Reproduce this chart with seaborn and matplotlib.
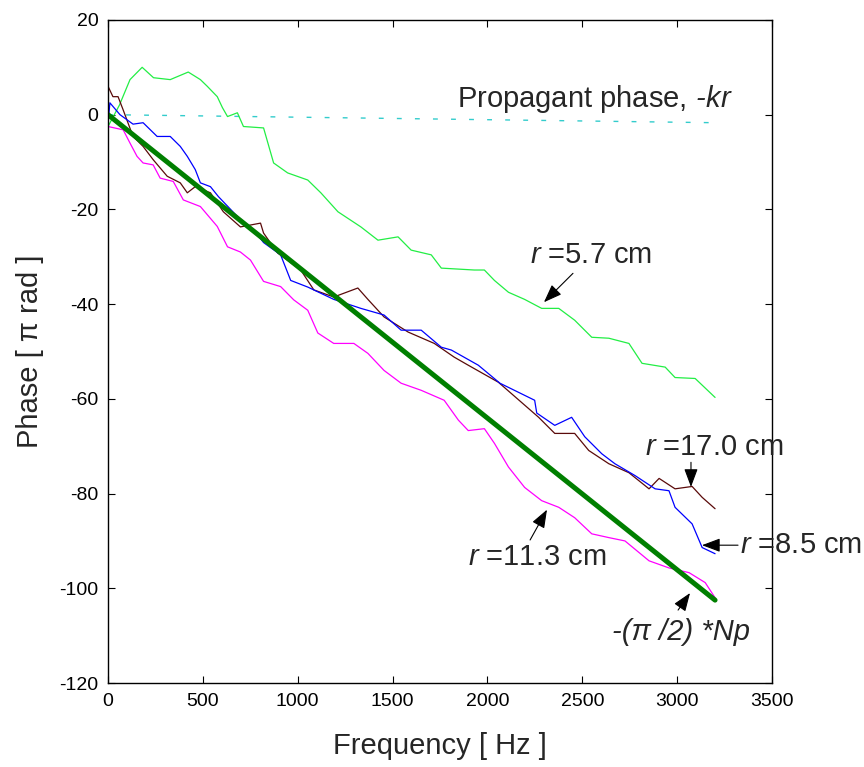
import matplotlib
matplotlib.use("Agg")
import matplotlib.pyplot as plt
import seaborn as sns
import pandas as pd

# ---- data ----
f_r57 = [0, 20, 60, 116, 180, 240, 328, 423, 487, 523, 576, 603, 630, 682, 714, 820, 873, 947,
         1053, 1122, 1212, 1333, 1423, 1529, 1598, 1704, 1757, 1931, 1984, 2037, 2111, 2196,
         2286, 2376, 2460, 2550, 2640, 2746, 2815, 2937, 2989, 3095, 3200]
p_r57 = [-2.5, -1, 2, 7.4, 10, 7.8, 7.4, 9, 7.4, 6, 3.8, 1.5, -0.4, 0.4, -2.5, -2.8, -10.2, -12.3,
         -13.8, -16.5, -20.5, -23.7, -26.5, -25.8, -28.6, -29.6, -32.4, -32.8, -32.8, -35, -37.5, -39,
         -40.9, -40.9, -43.4, -47, -47.2, -48.3, -52.5, -53.3, -55.5, -55.7, -59.7]

f_r85 = [0, 10, 63, 132, 185, 259, 328, 381, 418, 460, 487, 540, 582, 682, 767, 820, 910, 963,
         1053, 1190, 1333, 1455, 1545, 1651, 1757, 1810, 1952, 2066, 2249, 2260, 2355, 2444, 2513,
         2603, 2672, 2778, 2884, 2957, 2989, 3079, 3132, 3200]
p_r85 = [-2, 2.5, 0, -2, -1.7, -4.6, -4.6, -6.7, -8.8, -11.6, -14.4, -15.2, -17.3, -21.5, -24.3, -27,
         -29.6, -35, -36.4, -39, -40.9, -42.3, -45.5, -45.5, -49.1, -49.7, -52.9, -56.7, -60.3, -63,
         -65.6, -63.9, -68, -71.6, -73.7, -76.2, -79, -79.4, -82.9, -86.4, -91.4, -92.7]

f_r170 = [0, 26, 53, 80, 132, 185, 238, 312, 381, 418, 460, 540, 608, 698, 804, 820, 894, 1016,
          1085, 1190, 1317, 1370, 1455, 1582, 1720, 1825, 1899, 2058, 2270, 2355, 2460, 2534,
          2640, 2746, 2852, 2905, 2989, 3079, 3132, 3200]
p_r170 = [6, 3.8, 3.8, 1, -4.6, -6.7, -9.5, -13, -14.4, -16.5, -15.2, -16.5, -20.5, -23.7, -22.9,
          -25, -29.2, -32.8, -37, -38.5, -36.6, -39, -42.7, -45.9, -48.3, -51.2, -52.9, -56.5,
          -63.9, -67.3, -67.3, -70.9, -73.7, -75.6, -79, -76.8, -79, -78.5, -80.8, -83.2]

f_r113 = [0, 80, 116, 153, 185, 238, 275, 344, 397, 487, 576, 630, 698, 751, 820, 910, 979, 1053,
          1106, 1190, 1296, 1370, 1455, 1545, 1651, 1772, 1847, 1899, 1984, 2037, 2111, 2196,
          2286, 2376, 2460, 2550, 2640, 2725, 2852, 2957, 3063, 3148, 3200]
p_r113 = [-2.5, -3.2, -6, -8.8, -10.2, -10.6, -13.4, -14.1, -18, -19.4, -23.6, -27.9, -29, -30.7,
          -35.2, -36.3, -39.1, -41.3, -46.1, -48.3, -48.3, -50.4, -54, -56.7, -58.2, -60.3, -64.5,
          -66.7, -66.3, -69.4, -74.4, -78.7, -81.5, -82.9, -85.1, -88.5, -89.3, -90, -94.2,
          -95.7, -96.7, -98.8, -102]

f_np = [0, 3200]
p_np = [0, -102.5]

f_kr = [0, 3200]
p_kr = [0, -1.7]

x_ticks = [0, 500, 1000, 1500, 2000, 2500, 3000, 3500]
y_ticks = [-120, -100, -80, -60, -40, -20, 0, 20]

# ---- style ----
sns.set_style("ticks")
plt.rcParams["font.family"] = ["Liberation Sans", "DejaVu Sans"]
plt.rcParams["mathtext.fontset"] = "custom"
plt.rcParams["mathtext.rm"] = "Liberation Sans"
plt.rcParams["mathtext.it"] = "Liberation Sans:italic"
plt.rcParams["axes.unicode_minus"] = False

fig = plt.figure(figsize=(8.64, 7.67), dpi=100)
ax = fig.add_axes([0.125, 0.1095, 0.7685, 0.8645])

def draw(f, p, color, lw, **kw):
    df = pd.DataFrame({"f": f, "p": p})
    sns.lineplot(data=df, x="f", y="p", ax=ax, color=color, linewidth=lw,
                 estimator=None, sort=False, **kw)

draw(f_kr, p_kr, "#33cccc", 1.0, linestyle=(0, (3.5, 9.5)))
draw(f_r57, p_r57, "#22ee44", 0.9)
draw(f_r113, p_r113, "#ff00ff", 0.9)
draw(f_r170, p_r170, "#5a0a0a", 0.9)
draw(f_r85, p_r85, "#0000ff", 0.9)
draw(f_np, p_np, "#007f00", 3.6)

ax.set_xlim(0, 3500)
ax.set_ylim(-120, 20)
ax.set_xticks(x_ticks)
ax.set_yticks(y_ticks)
ax.tick_params(direction="in", length=5, width=0.8, top=True, right=True,
               labelsize=14, colors="black", pad=7)
for s in ax.spines.values():
    s.set_linewidth(1.0)
    s.set_color("black")

ax.set_xlabel("Frequency [ Hz ]", fontsize=21, labelpad=16)
ax.set_ylabel("Phase [ π rad ]", fontsize=21, labelpad=11)

tfs = 21
ax.text(1840, 3.4, r"$\mathrm{Propagant\ phase,}\,$-kr", fontsize=tfs, ha="left", va="center",
        fontstyle="italic")
ax.text(2225, -29.6, r"$\it{r}$ =5.7 cm", fontsize=tfs, ha="left", va="center")
ax.text(2831, -70.2, r"$\it{r}$ =17.0 cm", fontsize=tfs, ha="left", va="center")
ax.text(3331, -90.9, r"$\it{r}$ =8.5 cm", fontsize=tfs, ha="left", va="center", clip_on=False)
ax.text(1898, -93.4, r"$\it{r}$ =11.3 cm", fontsize=tfs, ha="left", va="center")
ax.text(2657, -109.3, "-(π /2) *Np", fontsize=tfs, ha="left", va="center", fontstyle="italic")

arrow = dict(arrowstyle="-|>,head_length=0.8,head_width=0.3", color="black", lw=0.8,
             mutation_scale=14, shrinkA=0, shrinkB=0)
ax.annotate("", xy=(2298, -39.6), xytext=(2451, -33.5), arrowprops=arrow)
ax.annotate("", xy=(3073, -78.6), xytext=(3073, -73.4), arrowprops=arrow)
ax.annotate("", xy=(3131, -90.9), xytext=(3321, -90.9), arrowprops=arrow)
ax.annotate("", xy=(2314, -83.4), xytext=(2225, -89.8), arrowprops=arrow)
ax.annotate("", xy=(3068, -101.0), xytext=(3005, -104.6), arrowprops=arrow)

fig.savefig("out.png", dpi=100)
